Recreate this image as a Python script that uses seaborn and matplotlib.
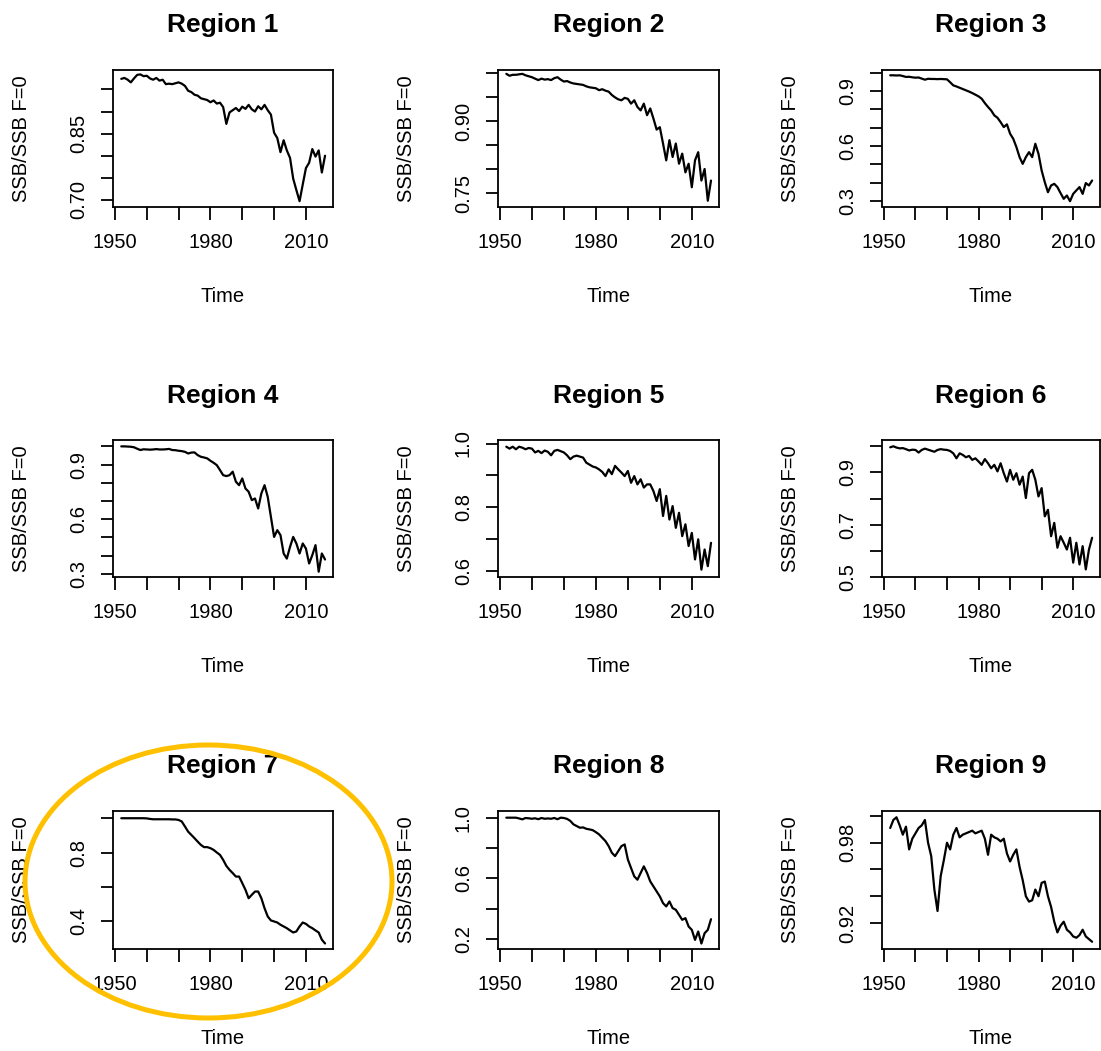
import matplotlib
matplotlib.use("Agg")
import matplotlib.pyplot as plt
from matplotlib.patches import Ellipse
import seaborn as sns
import pandas as pd

# Yearly values, 1952-2016
years = list(range(1952, 2017))

region_1 = [0.974, 0.976, 0.972, 0.966, 0.975, 0.983, 0.984, 0.980, 0.981, 0.975,
            0.972, 0.976, 0.970, 0.972, 0.962, 0.963, 0.962, 0.964, 0.966, 0.963,
            0.958, 0.947, 0.944, 0.938, 0.936, 0.930, 0.928, 0.926, 0.921, 0.925,
            0.918, 0.920, 0.910, 0.872, 0.898, 0.903, 0.908, 0.901, 0.911, 0.906,
            0.915, 0.905, 0.900, 0.912, 0.905, 0.915, 0.903, 0.893, 0.852, 0.840,
            0.808, 0.835, 0.812, 0.795, 0.748, 0.722, 0.697, 0.735, 0.772, 0.784,
            0.815, 0.798, 0.812, 0.762, 0.800]

region_2 = [0.998, 0.994, 0.996, 0.996, 0.997, 0.998, 0.995, 0.993, 0.991, 0.988,
            0.985, 0.988, 0.986, 0.987, 0.985, 0.989, 0.991, 0.986, 0.982, 0.983,
            0.980, 0.978, 0.977, 0.976, 0.975, 0.972, 0.970, 0.969, 0.968, 0.964,
            0.966, 0.963, 0.961, 0.954, 0.949, 0.945, 0.943, 0.948, 0.946, 0.936,
            0.943, 0.929, 0.922, 0.936, 0.912, 0.926, 0.905, 0.882, 0.887, 0.853,
            0.818, 0.860, 0.825, 0.853, 0.811, 0.832, 0.793, 0.811, 0.762, 0.818,
            0.835, 0.776, 0.800, 0.734, 0.776]

region_3 = [0.986, 0.986, 0.985, 0.986, 0.982, 0.977, 0.978, 0.975, 0.973, 0.974,
            0.968, 0.962, 0.967, 0.966, 0.966, 0.965, 0.966, 0.965, 0.964, 0.948,
            0.931, 0.925, 0.918, 0.911, 0.904, 0.897, 0.889, 0.880, 0.871, 0.858,
            0.834, 0.813, 0.794, 0.767, 0.754, 0.730, 0.703, 0.718, 0.667, 0.639,
            0.594, 0.539, 0.502, 0.539, 0.566, 0.539, 0.612, 0.557, 0.466, 0.402,
            0.347, 0.384, 0.393, 0.375, 0.342, 0.311, 0.329, 0.298, 0.338, 0.357,
            0.375, 0.338, 0.397, 0.384, 0.411]

region_4 = [1.000, 1.000, 0.999, 0.998, 0.995, 0.987, 0.980, 0.984, 0.983, 0.982,
            0.983, 0.985, 0.983, 0.983, 0.984, 0.986, 0.980, 0.979, 0.976, 0.974,
            0.970, 0.961, 0.966, 0.967, 0.952, 0.943, 0.939, 0.934, 0.921, 0.910,
            0.897, 0.870, 0.842, 0.837, 0.842, 0.861, 0.806, 0.787, 0.824, 0.769,
            0.751, 0.705, 0.714, 0.659, 0.742, 0.787, 0.723, 0.613, 0.503, 0.540,
            0.513, 0.412, 0.384, 0.448, 0.503, 0.467, 0.412, 0.467, 0.439, 0.357,
            0.403, 0.458, 0.312, 0.412, 0.379]

region_5 = [0.990, 0.984, 0.990, 0.982, 0.990, 0.987, 0.982, 0.986, 0.984, 0.972,
            0.977, 0.970, 0.978, 0.974, 0.963, 0.977, 0.980, 0.976, 0.972, 0.963,
            0.951, 0.959, 0.962, 0.959, 0.956, 0.940, 0.934, 0.928, 0.925, 0.919,
            0.911, 0.898, 0.919, 0.904, 0.930, 0.919, 0.909, 0.898, 0.914, 0.877,
            0.898, 0.872, 0.888, 0.862, 0.872, 0.872, 0.851, 0.820, 0.857, 0.773,
            0.836, 0.762, 0.804, 0.736, 0.783, 0.710, 0.747, 0.679, 0.720, 0.637,
            0.700, 0.605, 0.668, 0.616, 0.689]

region_6 = [0.996, 1.000, 0.995, 0.992, 0.993, 0.989, 0.984, 0.987, 0.986, 0.976,
            0.986, 0.991, 0.987, 0.983, 0.979, 0.986, 0.989, 0.987, 0.986, 0.982,
            0.973, 0.954, 0.973, 0.967, 0.958, 0.963, 0.948, 0.954, 0.942, 0.929,
            0.951, 0.935, 0.916, 0.929, 0.904, 0.935, 0.897, 0.865, 0.910, 0.872,
            0.897, 0.853, 0.884, 0.802, 0.897, 0.910, 0.872, 0.808, 0.840, 0.732,
            0.757, 0.656, 0.707, 0.612, 0.656, 0.631, 0.605, 0.650, 0.555, 0.631,
            0.548, 0.618, 0.529, 0.605, 0.650]

region_7 = [1.000, 1.000, 1.000, 1.000, 1.000, 1.000, 1.000, 1.000, 0.999, 0.996,
            0.994, 0.994, 0.994, 0.994, 0.994, 0.994, 0.993, 0.993, 0.990, 0.981,
            0.952, 0.922, 0.903, 0.884, 0.864, 0.845, 0.832, 0.832, 0.826, 0.816,
            0.801, 0.787, 0.758, 0.723, 0.700, 0.681, 0.661, 0.661, 0.623, 0.584,
            0.535, 0.555, 0.574, 0.574, 0.535, 0.477, 0.429, 0.406, 0.400, 0.394,
            0.381, 0.371, 0.361, 0.348, 0.336, 0.342, 0.371, 0.394, 0.386, 0.371,
            0.361, 0.348, 0.336, 0.294, 0.272]

region_8 = [1.000, 1.000, 1.000, 1.000, 0.995, 0.989, 0.998, 0.996, 0.993, 0.996,
            0.990, 0.998, 0.993, 0.995, 0.993, 0.998, 0.990, 1.000, 0.998, 0.992,
            0.979, 0.956, 0.945, 0.934, 0.936, 0.927, 0.923, 0.918, 0.905, 0.890,
            0.868, 0.846, 0.813, 0.769, 0.747, 0.780, 0.813, 0.824, 0.725, 0.669,
            0.614, 0.592, 0.636, 0.680, 0.636, 0.581, 0.548, 0.515, 0.482, 0.438,
            0.416, 0.449, 0.405, 0.394, 0.361, 0.328, 0.339, 0.284, 0.262, 0.196,
            0.251, 0.172, 0.240, 0.262, 0.332]

region_9 = [0.991, 0.997, 0.999, 0.993, 0.986, 0.992, 0.975, 0.983, 0.987, 0.991,
            0.993, 0.997, 0.980, 0.970, 0.945, 0.929, 0.955, 0.967, 0.980, 0.975,
            0.986, 0.991, 0.984, 0.986, 0.987, 0.988, 0.989, 0.987, 0.988, 0.989,
            0.983, 0.971, 0.986, 0.984, 0.983, 0.981, 0.983, 0.972, 0.966, 0.971,
            0.975, 0.962, 0.952, 0.940, 0.936, 0.937, 0.945, 0.940, 0.950, 0.951,
            0.940, 0.932, 0.921, 0.913, 0.918, 0.921, 0.915, 0.913, 0.910, 0.909,
            0.911, 0.915, 0.910, 0.908, 0.906]

region_names = ['Region 1', 'Region 2', 'Region 3', 'Region 4', 'Region 5',
                'Region 6', 'Region 7', 'Region 8', 'Region 9']
region_values = [region_1, region_2, region_3, region_4, region_5,
                 region_6, region_7, region_8, region_9]

x_ticks = [1950, 1960, 1970, 1980, 1990, 2000, 2010]
x_labels = ['1950', '', '', '1980', '', '', '2010']

y_ticks = [
    [0.70, 0.75, 0.80, 0.85, 0.90, 0.95],
    [0.75, 0.80, 0.85, 0.90, 0.95, 1.00],
    [0.3, 0.4, 0.5, 0.6, 0.7, 0.8, 0.9, 1.0],
    [0.3, 0.4, 0.5, 0.6, 0.7, 0.8, 0.9, 1.0],
    [0.6, 0.7, 0.8, 0.9, 1.0],
    [0.5, 0.6, 0.7, 0.8, 0.9, 1.0],
    [0.4, 0.6, 0.8, 1.0],
    [0.2, 0.4, 0.6, 0.8, 1.0],
    [0.92, 0.94, 0.96, 0.98, 1.00],
]
y_labels = [
    ['0.70', '', '', '0.85', '', ''],
    ['0.75', '', '', '0.90', '', ''],
    ['0.3', '', '', '0.6', '', '', '0.9', ''],
    ['0.3', '', '', '0.6', '', '', '0.9', ''],
    ['0.6', '', '0.8', '', '1.0'],
    ['0.5', '', '0.7', '', '0.9', ''],
    ['0.4', '', '0.8', ''],
    ['0.2', '', '0.6', '', '1.0'],
    ['0.92', '', '', '0.98', ''],
]
y_limits = [(0.685, 0.994), (0.722, 1.006), (0.269, 1.015),
            (0.283, 1.035), (0.582, 1.011), (0.502, 1.024),
            (0.240, 1.042), (0.136, 1.044), (0.9006, 1.0037)]

sns.set_style('white')
plt.rcParams['font.family'] = ['Liberation Sans', 'DejaVu Sans']
plt.rcParams['text.color'] = 'black'
plt.rcParams['axes.labelcolor'] = 'black'

W, H = 1101, 1051
fig = plt.figure(figsize=(W / 100, H / 100), dpi=100)

# panel boxes in pixels
col_left = [113, 498, 882]
col_width = [220, 221, 218]
row_top = [70, 440, 811]
row_height = [136.5, 137, 138]

for i, (name, values) in enumerate(zip(region_names, region_values)):
    r, c = divmod(i, 3)
    rect = [col_left[c] / W, 1 - (row_top[r] + row_height[r]) / H,
            col_width[c] / W, row_height[r] / H]
    ax = fig.add_axes(rect)

    df = pd.DataFrame({'Time': years, 'SSB': values})
    sns.lineplot(data=df, x='Time', y='SSB', ax=ax, color='black', linewidth=1.6)

    ax.set_xlim(1949.4, 2018.5)
    ax.set_ylim(*y_limits[i])
    ax.set_xticks(x_ticks)
    ax.set_xticklabels(x_labels)
    ax.set_yticks(y_ticks[i])
    ax.set_yticklabels(y_labels[i], rotation=90, va='center')

    ax.tick_params(axis='both', direction='out', length=9, width=1.3,
                   colors='black', labelsize=14.5, bottom=True, left=True)
    ax.tick_params(axis='x', pad=10)
    ax.tick_params(axis='y', pad=9)

    for s in ax.spines.values():
        s.set_color('black')
        s.set_linewidth(1.3)

    ax.set_title(name, fontsize=19, fontweight='bold', pad=27)
    ax.set_xlabel('Time', fontsize=14.5, va='center')
    ax.xaxis.set_label_coords(0.5, -90 / row_height[r])
    ax.set_ylabel('SSB/SSB F=0', fontsize=14.5, va='center')
    ax.yaxis.set_label_coords(-91 / col_width[c], 0.5)

# orange highlight ring around the Region 7 panel
ring = Ellipse((208.5 / W, 1 - 881.5 / H), 367 / W, 273 / H,
               transform=fig.transFigure, fill=False,
               edgecolor='#FFC000', linewidth=3.6, zorder=10)
fig.add_artist(ring)

fig.savefig('out.png', dpi=100)
plt.close(fig)
